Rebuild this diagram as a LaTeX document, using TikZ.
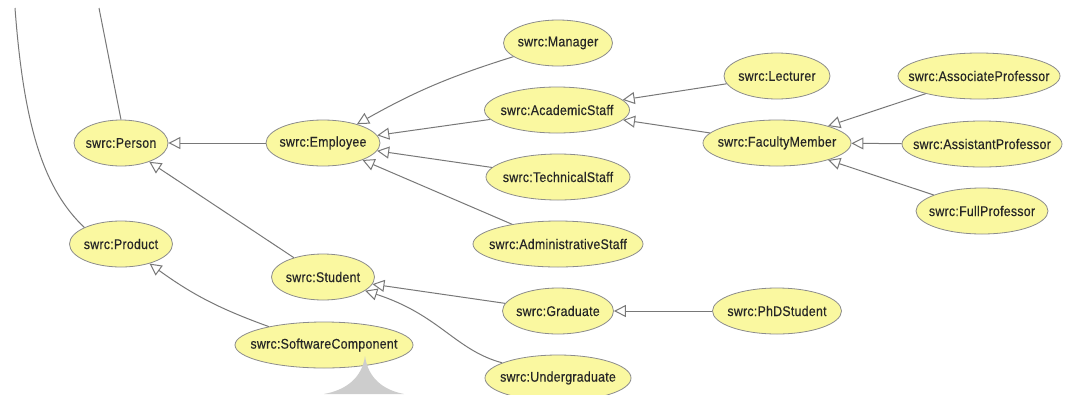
\documentclass[tikz,border=0pt]{standalone}
\usepackage{fontspec}
\newfontfamily\lblfont[FakeStretch=0.88,FakeBold=0.4,LetterSpace=2]{Liberation Sans}
\usetikzlibrary{shapes.geometric,arrows.meta}
\definecolor{nodefill}{RGB}{250,248,160}
\definecolor{nodeline}{RGB}{140,140,140}
\definecolor{edgecol}{RGB}{120,120,120}
\definecolor{shadecol}{RGB}{205,205,205}
\begin{document}
\begin{tikzpicture}[x=1pt,y=-1pt,
  cls/.style={ellipse, draw=nodeline, fill=nodefill, line width=0.8pt, inner sep=0pt,
    minimum height=46pt, text=black!85, font=\lblfont\fontsize{14}{16}\selectfont},
  isa/.style={draw=edgecol, line width=1pt, -{Triangle[length=12pt,width=12pt,fill=white]}},
  plainedge/.style={draw=edgecol, line width=1pt}]
\useasboundingbox (0,0) rectangle (1065,394);
\fill[white] (0,0) rectangle (1065,394);

% nodes
\node[cls, minimum width=94pt]  (person)    at (121,143) {\makebox[0pt]{swrc:Person}};
\node[cls, minimum width=114pt] (employee)  at (323,143) {\makebox[0pt]{swrc:Employee}};
\node[cls, minimum width=103pt] (product)   at (121,244) {\makebox[0pt]{swrc:Product}};
\node[cls, minimum width=103pt] (student)   at (323,277) {\makebox[0pt]{swrc:Student}};
\node[cls, minimum width=178pt] (software)  at (324,345) {\makebox[0pt]{swrc:SoftwareComponent}};
\node[cls, minimum width=109pt] (manager)   at (558,43)  {\makebox[0pt]{swrc:Manager}};
\node[cls, minimum width=145pt] (academic)  at (557,110) {\makebox[0pt]{swrc:AcademicStaff}};
\node[cls, minimum width=144pt] (technical) at (558,177) {\makebox[0pt]{swrc:TechnicalStaff}};
\node[cls, minimum width=170pt] (admin)     at (558,244) {\makebox[0pt]{swrc:AdministrativeStaff}};
\node[cls, minimum width=111pt] (graduate)  at (558,311) {\makebox[0pt]{swrc:Graduate}};
\node[cls, minimum width=146pt] (undergrad) at (558,378) {\makebox[0pt]{swrc:Undergraduate}};
\node[cls, minimum width=106pt] (lecturer)  at (777,76)  {\makebox[0pt]{swrc:Lecturer}};
\node[cls, minimum width=148pt] (faculty)   at (777,143) {\makebox[0pt]{swrc:FacultyMember}};
\node[cls, minimum width=129pt] (phd)       at (777,311) {\makebox[0pt]{swrc:PhDStudent}};
\node[cls, minimum width=162pt] (assoc)     at (979,76)  {\makebox[0pt]{swrc:AssociateProfessor}};
\node[cls, minimum width=160pt] (asst)      at (982,144) {\makebox[0pt]{swrc:AssistantProfessor}};
\node[cls, minimum width=132pt] (full)      at (982,211) {\makebox[0pt]{swrc:FullProfessor}};

% free ends at the top border
\coordinate (topA) at (15,8);
\coordinate (topB) at (99,8);

% edges
\draw[plainedge] (person.north) -- (topB);
\draw[plainedge] (topA) .. controls (24,130) and (45,190) .. (product.north west);
\draw[isa] (employee) -- (person);
\draw[isa] (student) -- (person);
\draw[isa] (software) to[bend left=8] (product);
\draw[isa] (manager) to[bend right=6] (employee);
\draw[isa] (academic) -- (employee);
\draw[isa] (technical) -- (employee);
\draw[isa] (admin) -- (employee);
\draw[isa] (lecturer) -- (academic);
\draw[isa] (faculty) -- (academic);
\draw[isa] (assoc) -- (faculty);
\draw[isa] (asst) -- (faculty);
\draw[isa] (full) -- (faculty);
\draw[isa] (graduate) -- (student);
\draw[isa] (undergrad) .. controls (455,350) and (440,315) .. (student);
\draw[isa] (phd) -- (graduate);

% grey cusp shape at the bottom
\fill[shadecol] (365,356) .. controls (368,378) and (383,390) .. (404,394)
  -- (324,394) .. controls (346,390) and (362,378) .. (365,356) -- cycle;
\end{tikzpicture}
\end{document}
